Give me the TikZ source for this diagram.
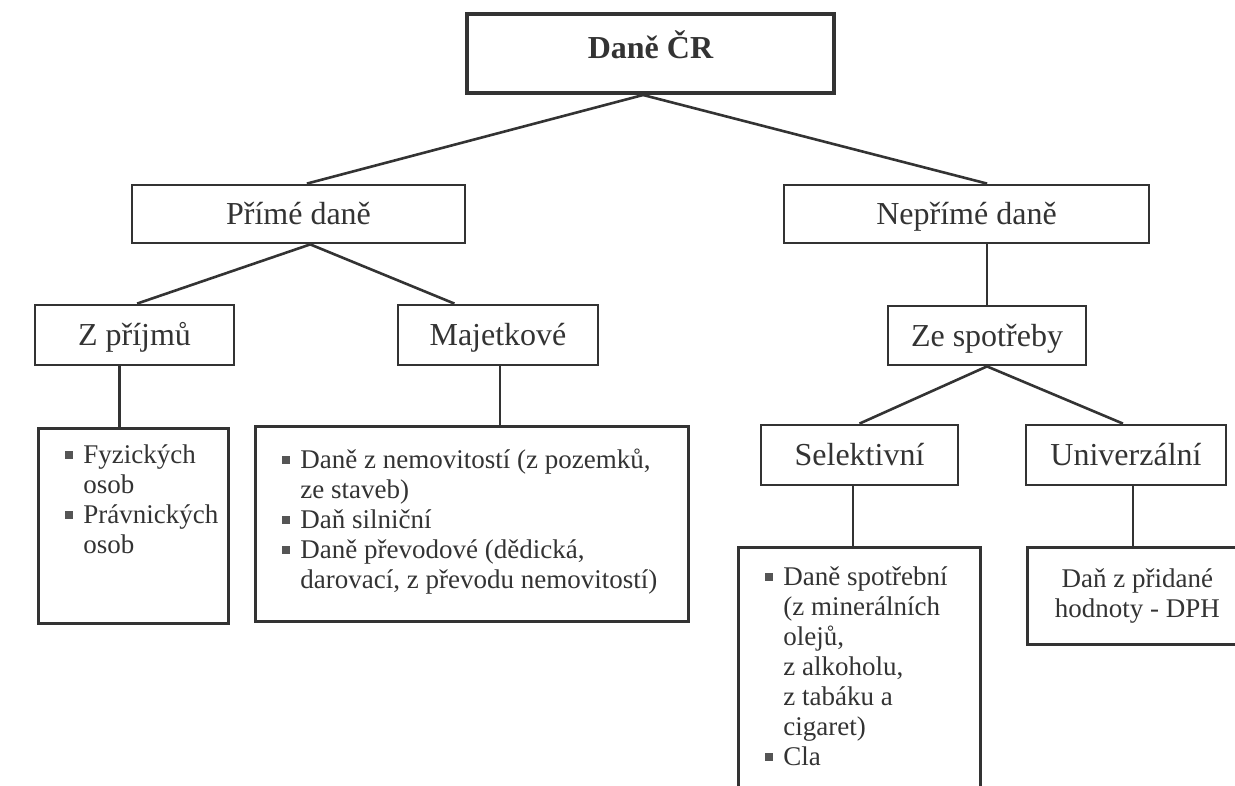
\documentclass[tikz,border=0pt]{standalone}
\usepackage{fontspec}
\setmainfont{Liberation Serif}
\usetikzlibrary{calc}
\definecolor{ink}{HTML}{333333}
\definecolor{bulletgray}{HTML}{555555}
\tikzset{
  hbox/.style={draw=ink, line width=2.8pt, rectangle, inner sep=0pt, text=ink,
    text height=21pt, text depth=0pt, font=\fontsize{32}{36}\selectfont},
  lbox/.style={draw=ink, line width=2.8pt, rectangle, inner sep=0pt, anchor=north west,
    text=ink, font=\fontsize{27}{30}\selectfont},
  conn/.style={draw=ink, line width=2.6pt},
}
\newlength{\bind}\setlength{\bind}{18pt}
\newcommand{\bitem}{\par\hangindent=\bind\hangafter=1\noindent\strut\makebox[\bind][l]{\textcolor{bulletgray}{\rule[4pt]{8pt}{8pt}}}}
\newcommand{\listbox}[4]{\parbox[c][#2][t]{#1}{\lineskiplimit=-100pt\lineskip=0pt\vspace*{#3}\leftskip=27pt\rightskip=0pt plus 1fil\parindent=0pt #4\par}}
\begin{document}
\begin{tikzpicture}[x=1pt,y=-1pt]
\useasboundingbox (0,0) rectangle (1235,785);
\clip (0,0) rectangle (1235,785);
% level 0
\node[hbox, line width=4pt, minimum width=367pt, minimum height=79pt, text height=9pt,
  font=\fontsize{32}{36}\selectfont\bfseries] (root) at (650.5,53.5) {Daně ČR};
% level 1
\node[hbox, minimum width=333pt, minimum height=58pt] (prime) at (298.5,214) {Přímé daně};
\node[hbox, minimum width=365pt, minimum height=58pt] (neprime) at (966.5,214) {Nepřímé daně};
% level 2
\node[hbox, minimum width=199pt, minimum height=60pt] (prijmy) at (134.5,335) {Z příjmů};
\node[hbox, minimum width=200pt, minimum height=60pt] (majet) at (498,335) {Majetkové};
\node[hbox, minimum width=198pt, minimum height=59pt] (spotr) at (987,335.5) {Ze spotřeby};
% level 3
\node[hbox, minimum width=197pt, minimum height=60pt] (selek) at (859.5,455) {Selektivní};
\node[hbox, minimum width=200pt, minimum height=60pt] (univ) at (1126,455) {Univerzální};
% lists
\node[lbox] (fyz) at (37,427) {\listbox{190pt}{195pt}{14pt}{%
  \bitem Fyzických\newline osob
  \bitem Právnických\newline osob}};
\node[lbox] (majlist) at (254,425) {\listbox{433pt}{195pt}{21pt}{%
  \bitem Daně z nemovitostí (z pozemků,\newline ze staveb)
  \bitem Daň silniční
  \bitem Daně převodové (dědická,\newline darovací, z převodu nemovitostí)}};
\node[lbox] (sellist) at (737,546) {\listbox{242pt}{300pt}{17pt}{%
  \bitem Daně spotřební\newline (z minerálních\newline olejů,\newline z alkoholu,\newline z tabáku a\newline cigaret)
  \bitem Cla}};
\node[lbox, minimum width=220pt, minimum height=97pt, align=center,
  font=\fontsize{27}{30}\selectfont] (dph) at (1026,546)
  {Daň z přidané\\hodnoty - DPH};
% connectors
\draw[conn] ($(root.south west)!0.48!(root.south east)$) -- ($(prime.north west)!0.525!(prime.north east)$);
\draw[conn] ($(root.south west)!0.48!(root.south east)$) -- ($(neprime.north west)!0.556!(neprime.north east)$);
\draw[conn] ($(prime.south west)!0.535!(prime.south east)$) -- ($(prijmy.north west)!0.513!(prijmy.north east)$);
\draw[conn] ($(prime.south west)!0.535!(prime.south east)$) -- ($(majet.north west)!0.285!(majet.north east)$);
\coordinate (c1) at ($(neprime.south west)!0.556!(neprime.south east)$);
\draw[conn] (c1) -- (c1 |- spotr.north);
\coordinate (c2) at ($(prijmy.south west)!0.427!(prijmy.south east)$);
\draw[conn] (c2) -- (c2 |- fyz.north);
\coordinate (c3) at ($(majet.south west)!0.51!(majet.south east)$);
\draw[conn] (c3) -- (c3 |- majlist.north);
\draw[conn] (spotr.south) -- ($(selek.north west)!0.5!(selek.north east)$);
\draw[conn] (spotr.south) -- ($(univ.north west)!0.485!(univ.north east)$);
\coordinate (c4) at ($(selek.south west)!0.467!(selek.south east)$);
\draw[conn] (c4) -- (c4 |- sellist.north);
\coordinate (c5) at ($(univ.south west)!0.535!(univ.south east)$);
\draw[conn] (c5) -- (c5 |- dph.north);
\end{tikzpicture}
\end{document}
